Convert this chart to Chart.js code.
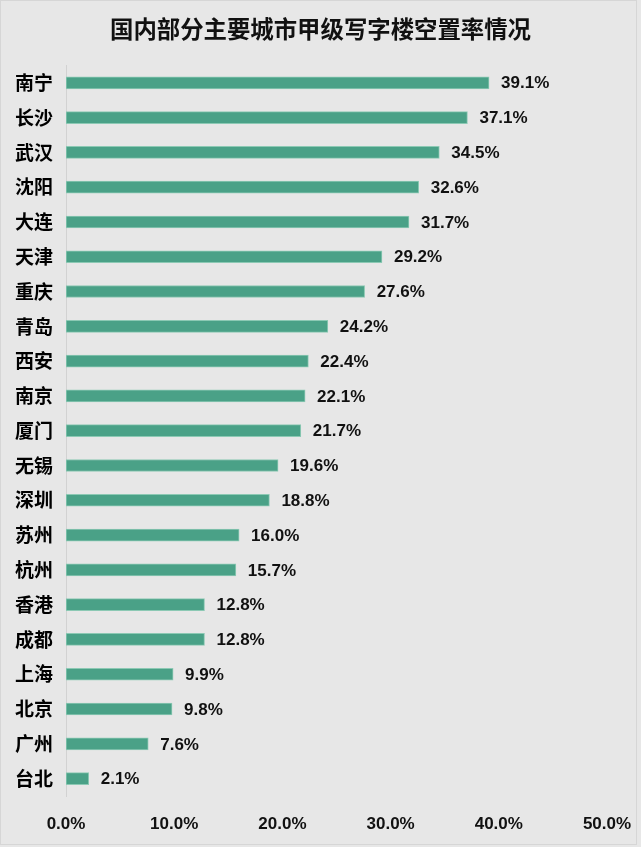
<!DOCTYPE html>
<html>
<head>
<meta charset="utf-8">
<script src="https://cdn.jsdelivr.net/npm/chart.js@4/dist/chart.umd.min.js"></script>
<style>
html,body{margin:0;padding:0;background:#e7e7e7;}
#wrap{width:641px;height:847px;position:relative;}
</style>
</head>
<body>
<div id="wrap"><canvas id="c" width="641" height="847"></canvas></div>
<script>
const titleText = '国内部分主要城市甲级写字楼空置率情况';
const cities = ['南宁','长沙','武汉','沈阳','大连','天津','重庆','青岛','西安','南京','厦门','无锡','深圳','苏州','杭州','香港','成都','上海','北京','广州','台北'];
const vacancy = [39.1,37.1,34.5,32.6,31.7,29.2,27.6,24.2,22.4,22.1,21.7,19.6,18.8,16.0,15.7,12.8,12.8,9.9,9.8,7.6,2.1];
const xTicks = [0,10,20,30,40,50];

const titleFont = 'bold 23.4px "Noto Sans CJK SC", sans-serif';

const bgPlugin = {
  id:'bg',
  beforeDraw(chart){
    const ctx = chart.ctx;
    ctx.save();
    ctx.fillStyle = '#e7e7e7';
    ctx.fillRect(0,0,chart.width,chart.height);
    ctx.strokeStyle = '#d6d6d6';
    ctx.lineWidth = 1;
    ctx.strokeRect(0.5,0.5,chart.width-5,chart.height-3);
    ctx.restore();
  },
  afterDraw(chart){
    const ctx = chart.ctx;
    ctx.save();
    ctx.font = titleFont;
    ctx.fillStyle = '#111111';
    ctx.textAlign = 'center';
    ctx.textBaseline = 'middle';
    ctx.fillText(titleText, 320.5, 29);
    ctx.restore();
  }
};

const labelPlugin = {
  id:'vals',
  afterDatasetsDraw(chart){
    const ctx = chart.ctx;
    const meta = chart.getDatasetMeta(0);
    ctx.save();
    ctx.font = 'bold 17px "Liberation Sans", Arial, sans-serif';
    ctx.fillStyle = '#111111';
    ctx.textAlign = 'left';
    ctx.textBaseline = 'middle';
    meta.data.forEach((bar,i)=>{
      ctx.fillText(vacancy[i].toFixed(1)+'%', bar.x + 12, bar.y + 1);
    });
    ctx.restore();
  }
};

new Chart(document.getElementById('c'), {
  type:'bar',
  data:{
    labels: cities,
    datasets:[{
      data: vacancy,
      backgroundColor:'#4aa187',
      borderColor:'#8cc9b4',
      borderWidth:1,
      borderSkipped:false,
      barThickness:12
    }]
  },
  options:{
    indexAxis:'y',
    responsive:false,
    animation:false,
    layout:{padding:{left:0,right:34,top:0,bottom:0}},
    plugins:{
      legend:{display:false},
      tooltip:{enabled:false},
      title:{
        display:true,
        text:titleText,
        color:'rgba(0,0,0,0)',
        font:{size:22,weight:'bold',family:'"Noto Sans CJK SC", sans-serif',lineHeight:1.2},
        padding:{top:15,bottom:24}
      }
    },
    scales:{
      x:{
        min:0,max:50,
        afterFit(s){ s.height = 51; s.paddingLeft = 0; s.paddingRight = 0; },
        afterBuildTicks(s){ s.ticks = xTicks.map(v=>({value:v})); },
        grid:{display:false,drawTicks:false},
        border:{display:false},
        ticks:{
          padding:18,
          color:'#111111',
          font:{size:17,weight:'bold',family:'"Liberation Sans", Arial, sans-serif'},
          callback:(v)=>Number(v).toFixed(1)+'%'
        }
      },
      y:{
        afterFit(s){ s.width = 66; s.paddingTop = 0; s.paddingBottom = 0; },
        grid:{display:false,drawTicks:false},
        border:{display:true,color:'#d2d2d2',width:1},
        ticks:{
          padding:13,
          color:'#000000',
          font:{size:19,weight:'bold',family:'"Noto Sans CJK SC", sans-serif'}
        }
      }
    }
  },
  plugins:[bgPlugin,labelPlugin]
});
</script>
</body>
</html>
